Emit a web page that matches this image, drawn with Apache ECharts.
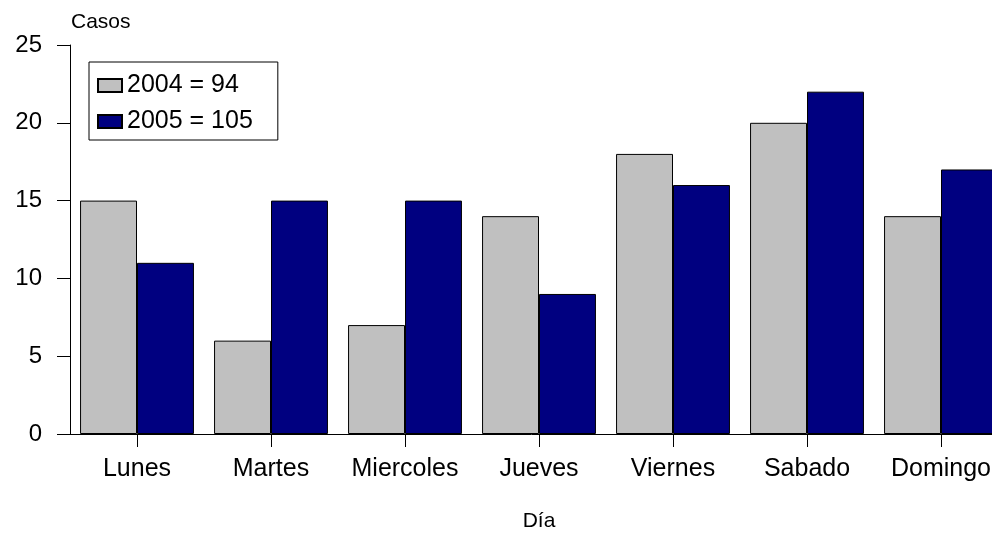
<!DOCTYPE html>
<html>
<head>
<meta charset="utf-8">
<script src="https://cdn.jsdelivr.net/npm/echarts@6/dist/echarts.min.js"></script>
<style>
	html, body { margin: 0; padding: 0; background: #fff; }
	#chart { width: 992px; height: 536px; }
</style>
</head>
<body>
<div id="chart"></div>
<script>
	var dias = ['Lunes', 'Martes', 'Miercoles', 'Jueves', 'Viernes', 'Sabado', 'Domingo'];
	var casos2004 = [15, 6, 7, 14, 18, 20, 14];
	var casos2005 = [11, 15, 15, 9, 16, 22, 17];
	var yTicks = [0, 5, 10, 15, 20, 25];

	var font = 'Liberation Sans, Arial, sans-serif';
	var myChart = echarts.init(document.getElementById('chart'));
	var option = {
		animation: false,
		textStyle: { fontFamily: font },
		grid: { left: 70, top: 45, width: 938, height: 389, outerBoundsMode: 'none', containLabel: false },
		legend: {
			orient: 'vertical',
			left: 89,
			top: 62,
			borderColor: '#000',
			borderWidth: 1,
			padding: [11, 25, 6, 8],
			itemWidth: 24,
			itemHeight: 13,
			itemGap: 11,
			itemTextGap: 7,
			icon: 'rect',
			textStyle: { fontSize: 25, color: '#000', fontFamily: font },
			data: ['2004 = 94', '2005 = 105']
		},
		graphic: [
			{ type: 'text', left: 71, top: 12, style: { text: 'Casos', fontSize: 21, fontFamily: font, fill: '#000' } }
		],
		xAxis: {
			type: 'category',
			data: dias,
			name: 'Día',
			nameLocation: 'middle',
			nameGap: 77,
			nameTextStyle: { fontSize: 21, color: '#000' },
			axisLine: { show: true, lineStyle: { color: '#000', width: 1 } },
			axisTick: { show: true, alignWithLabel: true, interval: 0, length: 13, lineStyle: { color: '#000', width: 1 } },
			axisLabel: { fontSize: 25, color: '#000', margin: 23, interval: 0 }
		},
		yAxis: {
			type: 'value',
			min: yTicks[0],
			max: yTicks[yTicks.length - 1],
			interval: 5,
			splitLine: { show: false },
			axisLine: { show: true, lineStyle: { color: '#000', width: 1 } },
			axisTick: { show: true, length: 13, lineStyle: { color: '#000' } },
			axisLabel: { fontSize: 24, color: '#000', margin: 28 }
		},
		series: [
			{
				name: '2004 = 94',
				type: 'bar',
				barGap: '0%',
				barCategoryGap: '15%',
				itemStyle: { color: '#C0C0C0', borderColor: '#000', borderWidth: 1 },
				data: casos2004
			},
			{
				name: '2005 = 105',
				type: 'bar',
				itemStyle: { color: '#000080', borderColor: '#000', borderWidth: 1 },
				data: casos2005
			}
		]
	};
	myChart.setOption(option);
</script>
</body>
</html>
